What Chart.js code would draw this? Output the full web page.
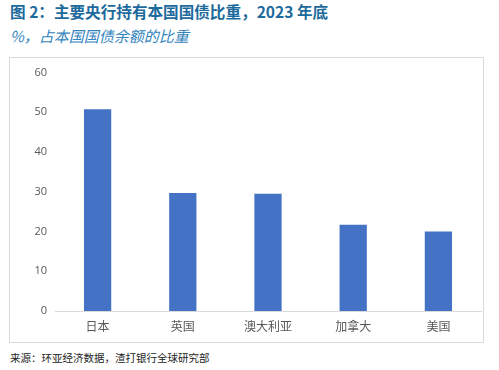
<!DOCTYPE html>
<html>
<head>
<meta charset="utf-8">
<script src="https://cdn.jsdelivr.net/npm/chart.js@4.4.1/dist/chart.umd.min.js"></script>
<style>
    body { margin: 0; width: 499px; height: 370px; background: #fff; position: relative; overflow: hidden;
           font-family: "Noto Sans CJK SC", "Noto Sans", sans-serif; }
    #title { position: absolute; left: 10px; top: 0px; font-size: 15.6px; font-weight: bold; color: #1d6a9c; white-space: nowrap; }
    #subtitle { position: absolute; left: 10px; top: 25px; font-size: 15px; font-style: italic; color: #3384bd; white-space: nowrap; }
    #box { position: absolute; left: 9px; top: 57px; width: 473px; height: 284px; border: 1px solid #d9d9d9; }
    #source { position: absolute; left: 10px; top: 350px; font-size: 10.5px; color: #222; white-space: nowrap; }
</style>
</head>
<body>
<div id="title">图 2：主要央行持有本国国债比重，2023 年底</div>
<div id="subtitle">%，占本国国债余额的比重</div>
<div id="box"><canvas id="myChart"></canvas></div>
<div id="source">来源：环亚经济数据，渣打银行全球研究部</div>
<script>
const ctx = document.getElementById('myChart');

const labels = ['日本', '英国', '澳大利亚', '加拿大', '美国'];
const shares = [50.8, 29.7, 29.5, 21.7, 20.0];
const yTicks = [0, 10, 20, 30, 40, 50, 60];

const myChart = new Chart(ctx, {
    type: 'bar',
    data: {
        labels: labels,
        datasets: [{
            data: shares,
            backgroundColor: '#4472c4',
            barPercentage: 0.32,
            categoryPercentage: 1
        }]
    },
    options: {
        responsive: true,
        maintainAspectRatio: false,
        animation: false,
        layout: {
            padding: { top: 9, right: 2, bottom: 0, left: 0 }
        },
        scales: {
            x: {
                grid: { display: false, drawTicks: false },
                border: { color: '#d9d9d9' },
                ticks: {
                    color: '#595959',
                    padding: 8,
                    font: { family: '"Noto Sans CJK SC"', size: 12 }
                },
                afterFit: function(scale) { scale.height = 31; }
            },
            y: {
                min: yTicks[0],
                max: yTicks[yTicks.length - 1],
                grid: { display: false, drawTicks: false },
                border: { display: false },
                ticks: {
                    stepSize: 10,
                    color: '#595959',
                    padding: 8,
                    font: { family: '"Open Sans"', size: 11 }
                },
                afterFit: function(scale) { scale.width = 45; }
            }
        },
        plugins: {
            legend: { display: false },
            tooltip: { enabled: false }
        }
    }
});
</script>
</body>
</html>
